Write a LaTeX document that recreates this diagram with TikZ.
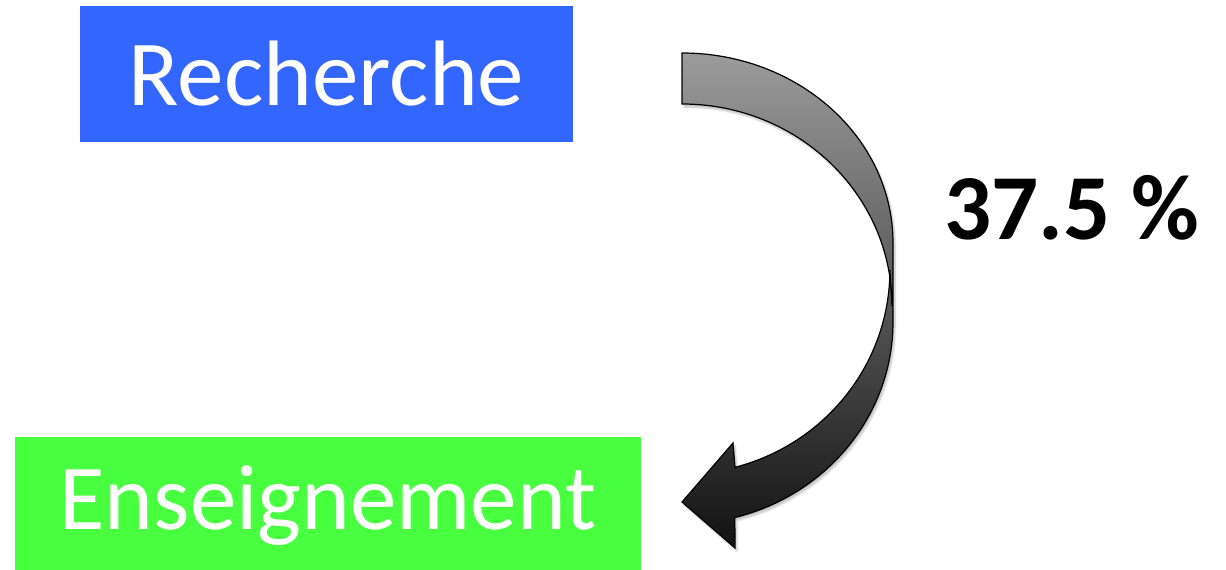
\documentclass[tikz,border=0pt]{standalone}
\usepackage{fontspec}
\setmainfont{Carlito}
\usetikzlibrary{positioning,shadows.blur}

\definecolor{rblue}{RGB}{51,102,255}
\definecolor{egreen}{RGB}{72,255,64}

\begin{document}
\begin{tikzpicture}[x=1pt,y=1pt]

      \tikzstyle{field}=[rectangle,inner sep=0pt,
        minimum height=136pt,text=white,
        font=\fontsize{93}{100}\selectfont]

      \useasboundingbox (0,0) rectangle (1226,570);

      \node(Recherche)[field,fill=rblue,
        minimum width=493pt] at (326.5,496) {Recherche};
      \node(Enseignement)[field,fill=egreen,minimum width=626pt,
        below=295pt of Recherche,xshift=1.5pt]{Enseignement};

      \node(Part)[anchor=base,
        font=\fontsize{93}{100}\selectfont\bfseries]
        at (1072,330) {37.5 \%};

      \draw [line width=1.2pt,top color={rgb,255:red,155;green,155;blue,155},
        middle color={rgb,255:red,132;green,132;blue,132},
        bottom color={rgb,255:red,18;green,18;blue,18},
        blur shadow={shadow xshift=2pt,shadow yshift=-3pt,
          shadow opacity=25,shadow blur steps=6}]
      (682,517) arc[start angle=90,end angle=0,
        x radius=211pt,y radius=190pt]
      -- (893,248)
      arc[start angle=0,end angle=-75.5,
        x radius=211pt,y radius=202pt]
      -- (735,22) -- (682,68) -- (733,127) -- (735,102.7)
      arc[start angle=-75.2,end angle=0,
        x radius=208pt,y radius=204pt]
      -- (892,264)
      arc[start angle=0,end angle=90,
        x radius=210pt,y radius=202pt]
      -- cycle;

    \end{tikzpicture}
\end{document}
